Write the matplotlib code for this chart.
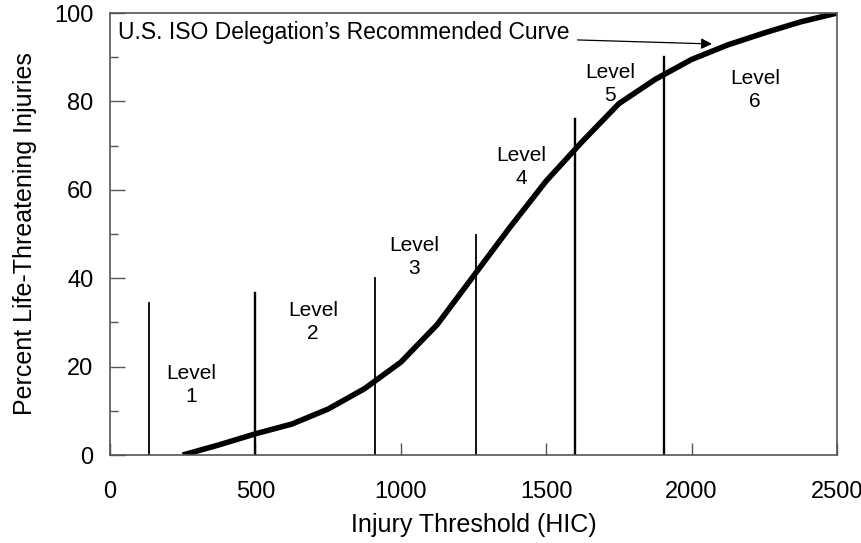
import numpy as np
import matplotlib
matplotlib.use("Agg")
import matplotlib.pyplot as plt
from matplotlib.ticker import MultipleLocator

plt.rcParams['font.family'] = ['Liberation Sans', 'DejaVu Sans']

# recommended curve (HIC vs percent life-threatening injuries)
hic = [250, 375, 500, 625, 750, 875, 1000, 1125, 1250, 1375, 1500,
       1625, 1750, 1875, 2000, 2125, 2250, 2375, 2500]
pct = [0, 2.3, 4.8, 7.0, 10.4, 15.0, 21.0, 29.5, 40.5, 51.5, 62.0,
       71.0, 79.5, 85.0, 89.5, 92.8, 95.5, 98.0, 100.0]

# level boundaries and how high each line reaches
level_x = [135, 500, 910, 1260, 1600, 1905]
level_top = [34.4, 36.6, 40.0, 49.7, 76.0, 90.0]

# level labels
level_names = ["Level\n1", "Level\n2", "Level\n3", "Level\n4", "Level\n5", "Level\n6"]
label_x = [278, 698, 1045, 1413, 1719, 2218]
label_y = [15.8, 30.1, 44.8, 65.2, 84.0, 82.6]

curve_label = "U.S. ISO Delegation\u2019s Recommended Curve"

fig = plt.figure(figsize=(8.62, 5.43), dpi=100)
ax = fig.add_axes([0.1276, 0.162, 0.8434, 0.814])

line_w = [1.3, 1.7, 1.3, 1.3, 1.7, 1.7]
for x, top, w in zip(level_x, level_top, line_w):
    ax.plot([x, x], [0, top], color="black", lw=w)

ax.plot(hic, pct, color="black", lw=4.0, solid_capstyle="butt", solid_joinstyle="round")

for name, x, y in zip(level_names, label_x, label_y):
    ax.text(x, y, name, ha="center", va="center", fontsize=15, linespacing=1.3)

ax.annotate(curve_label, xy=(2070, 93.0), xytext=(27, 95.5),
            fontsize=16.5, va="center", ha="left",
            arrowprops=dict(arrowstyle="-|>", color="black", lw=0.9,
                            mutation_scale=16, shrinkA=4, shrinkB=0))

ax.set_xlim(0, 2500)
ax.set_ylim(0, 100)
ax.xaxis.set_major_locator(MultipleLocator(500))
ax.yaxis.set_major_locator(MultipleLocator(20))
ax.yaxis.set_minor_locator(MultipleLocator(10))

grey = "#555555"
for s in ax.spines.values():
    s.set_color(grey)
    s.set_linewidth(1.2)
ax.tick_params(axis="both", which="major", direction="in", color=grey, width=1.0,
               labelsize=17)
ax.tick_params(axis="x", which="major", length=9, pad=19)
ax.tick_params(axis="y", which="major", length=11, pad=12)
ax.tick_params(axis="y", which="minor", direction="in", color=grey, length=6, width=1.0)

ax.set_xlabel("Injury Threshold (HIC)", fontsize=18, labelpad=7)
ax.set_ylabel("Percent Life-Threatening Injuries", fontsize=18, labelpad=12)

fig.savefig("out.png", dpi=100)
